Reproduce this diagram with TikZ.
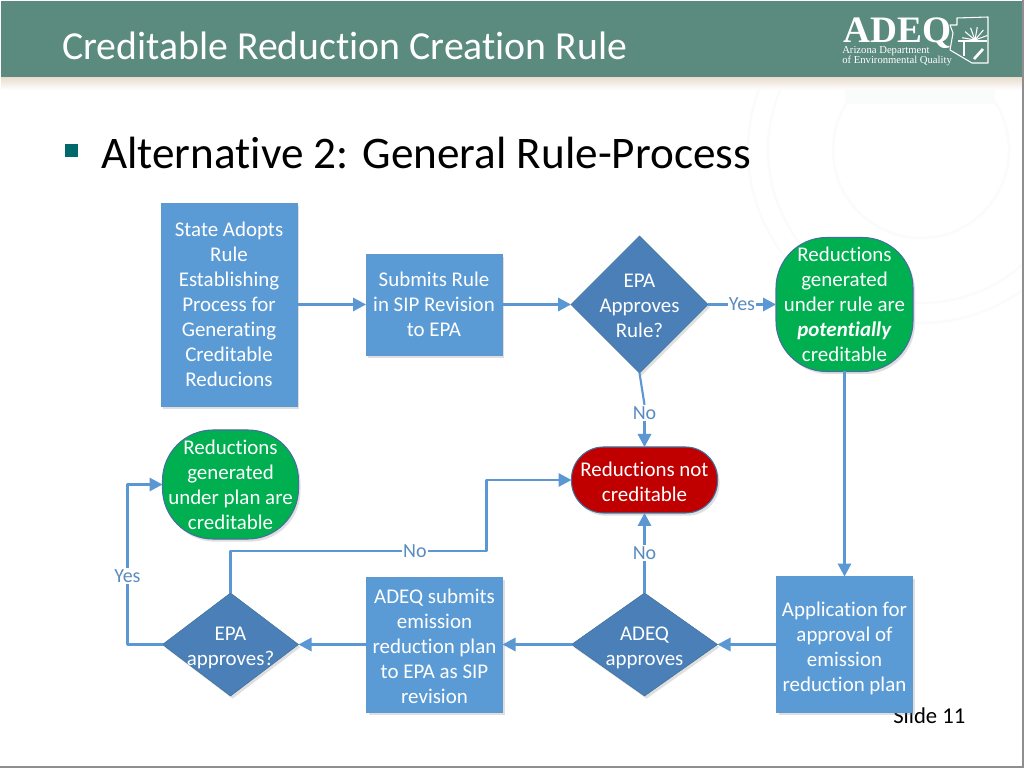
\documentclass[tikz,border=0pt]{standalone}
\usepackage{fontspec}
\setmainfont[Ligatures=NoCommon]{Carlito}
\newfontfamily\logofont{Liberation Serif}
\usepackage{tikz}
\usetikzlibrary{arrows.meta, calc, positioning, shadows, shapes.geometric}
\usepackage{xcolor}
\definecolor{HeaderGreen}{HTML}{5B8A7E}
\definecolor{HeaderTan}{HTML}{EADFD2}
\definecolor{BulletTeal}{HTML}{00696B}
\definecolor{BoxBlue}{HTML}{5B9BD5}
\definecolor{DiamondBlue}{HTML}{4A7FB8}
\definecolor{EdgeBlue}{HTML}{41719C}
\definecolor{LineBlue}{HTML}{5B97D2}
\definecolor{TextBlue}{HTML}{5A8CC0}
\definecolor{PassGreen}{HTML}{00AF50}
\definecolor{FailRed}{HTML}{C00000}
\definecolor{SealGray}{HTML}{FAFBFB}
\definecolor{FrameGray}{HTML}{8E8E8E}
\newcommand{\diamondtext}[1]{\raisebox{-0.75em}{\smash{\makebox[0pt]{\begin{tabular}{@{}c@{}}#1\end{tabular}}}}}
\tikzset{%
  flow_shape/.style={%
    inner sep=0pt,%
    outer sep=0pt,%
    text=white,%
    font={\fontsize{15.7}{18.75}\selectfont},%
    align=center,%
    drop shadow={shadow xshift=1.5pt, shadow yshift=-2pt, opacity=0.25},%
  },
  flow_block/.style={%
    flow_shape,%
    rectangle,%
    fill=BoxBlue,%
    minimum width=102pt,%
    draw=BoxBlue!90!gray,%
    thin,%
  },
  flow_diamond/.style={%
    flow_shape,%
    diamond,%
    fill=DiamondBlue,%
    draw=EdgeBlue,%
    thin,%
  },
  flow_end/.style={%
    flow_shape,%
    rectangle,%
    draw=EdgeBlue,%
    thick,%
  },
  flow_path/.style={%
    color=LineBlue,%
    line width=1.6pt,%
    line join=round,%
  },
  flow_annotate/.style={%
    color=TextBlue,%
    fill=white,%
    inner sep=1pt,%
    font={\fontsize{15}{18.75}\selectfont},%
  },
  arrow/.style={-{Triangle[length=9.75pt, width=10pt]}},
}

\begin{document}
\begin{tikzpicture}[x=0.75pt, y=0.75pt]

    \useasboundingbox (0, 0) rectangle (1024, 768);

    % watermark
    \begin{scope}
      \clip (0, 0) rectangle (1024, 690);
      \draw [SealGray, line width=2pt] (921, 618) circle [radius=173];
      \draw [SealGray, line width=2pt] (921, 618) circle [radius=153];
      \draw [SealGray, line width=2pt] (921, 618) circle [radius=88];
      \fill [SealGray] (845, 664) rectangle (995, 682);
    \end{scope}

    % header
    \shade [top color=HeaderTan, bottom color=white] (1, 690) rectangle (1023, 678);
    \fill [HeaderGreen] (1, 767) rectangle (1023, 691);
    \fill [FrameGray] (0, 0) rectangle (1024, 2);
    \fill [FrameGray] (1022, 0) rectangle (1024, 768);
    \node [anchor=base west, inner sep=0pt, text=white, font={\fontsize{29.8}{32}\selectfont}]
      (title) at (62, 708) {Creditable Reduction Creation Rule};

    % logo
    \node [anchor=base west, inner sep=0pt, text=white, font={\logofont\bfseries\fontsize{28}{28}\selectfont}]
      (logo) at (843, 725) {ADEQ};
    \node [anchor=base west, inner sep=0pt, text=white, align=left,
      font={\logofont\fontsize{8}{7.5}\selectfont}]
      (logo_sub) at (842, 704) {Arizona Department\\of Environmental Quality};
    \draw [white, line width=0.8pt, line join=round]
      (957, 750) -- (988, 751) -- (988, 705) -- (972, 705) -- (950, 718)
      -- (953, 735) -- (950, 743) -- (957, 743) -- cycle;
    \foreach \ang in {20, 50, 80, 110, 140, 170} {
      \draw [white, line width=0.8pt] (975, 728) -- +(\ang:13);
    }
    \draw [white, line width=1pt] (958, 727) -- (987, 727);
    \draw [white, line width=1.6pt] (964, 712) -- (964, 726);
    \draw [white, line width=2pt] (974, 709) -- (983, 719);

    % heading
    \fill [BulletTeal] (65, 611) rectangle (78, 624);
    \node [anchor=base west, inner sep=0pt, text=black, font={\fontsize{33.9}{36}\selectfont}]
      (heading) at (101, 599) {Alternative 2: General Rule-Process};

    \node [anchor=base west, inner sep=0pt, text=black, font={\fontsize{17}{20}\selectfont}]
      (slide_no) at (893, 45) {Slide 11};

    % top row
    \node [flow_block, minimum height=152.25pt] (State) at (229, 463.5)
      {State Adopts\\Rule\\Establishing\\Process for\\Generating\\Creditable\\Reducions};
    \node [flow_block, minimum height=75.75pt, right = 69 of State] (Submit)
      {Submits Rule\\in SIP Revision\\to EPA};
    \node [flow_diamond, minimum width=102.75pt, minimum height=102.75pt, right = 69 of Submit] (Rule)
      {\diamondtext{EPA\\Approves\\Rule?}};
    \node [flow_end, fill=PassGreen, minimum width=102.75pt, minimum height=100.5pt,
      rounded corners=38pt, right = 68 of Rule] (RuleOk)
      {Reductions\\generated\\under rule are\\\textbf{\textit{potentially}}\\creditable};

    % bottom row
    \node [flow_block, minimum height=102pt, below = 205 of RuleOk] (Apply)
      {\rule{0pt}{17pt}Application for\\approval of\\emission\\reduction plan};
    \node [flow_diamond, minimum width=109.5pt, minimum height=77.25pt, left = 59 of Apply] (Adeq)
      {\diamondtext{ADEQ\\approves}};
    \node [flow_block, minimum height=101.25pt, left = 69 of Adeq] (Plan)
      {\rule{0pt}{13pt}ADEQ submits\\emission\\reduction plan\\to EPA as SIP\\revision};
    \node [flow_diamond, minimum width=102pt, minimum height=77.25pt, left = 68 of Plan] (Epa)
      {\diamondtext{EPA\\approves?}};

    % middle row
    \node [flow_end, fill=FailRed, minimum width=109.5pt, minimum height=49.5pt,
      rounded corners=24pt, above = 80 of Adeq] (NotOk)
      {\rule{0pt}{13pt}Reductions not\\creditable};
    \node [flow_end, fill=PassGreen, minimum width=102pt, minimum height=81.75pt,
      rounded corners=38pt, above = 54 of Epa] (PlanOk)
      {Reductions\\generated\\under plan are\\creditable};

    \coordinate [left = 35 of Epa] (yes_turn);
    \coordinate [above = 42 of Epa] (no_turn);
    \coordinate [right = 256 of no_turn] (no_rise);
    \node [flow_annotate, above = 26 of NotOk] (rule_no) {No};

    \draw [arrow, flow_path]
      (State.east) -- (Submit.west);
    \draw [arrow, flow_path]
      (Submit.east) -- (Rule.west);
    \draw [arrow, flow_path]
      (Rule.east) -- (RuleOk.west)
      node [flow_annotate, midway] {Yes};
    \draw [flow_path]
      (Rule.south) -- (rule_no.north);
    \draw [arrow, flow_path]
      (rule_no.south) -- (NotOk.north);
    \draw [arrow, flow_path]
      (RuleOk.south) -- (Apply.north);
    \draw [arrow, flow_path]
      (Apply.west) -- (Adeq.east);
    \draw [arrow, flow_path]
      (Adeq.west) -- (Plan.east);
    \draw [arrow, flow_path]
      (Plan.west) -- (Epa.east);
    \draw [arrow, flow_path]
      (Adeq.north) -- (NotOk.south)
      node [flow_annotate, midway] {No};
    \draw [arrow, flow_path]
      (Epa.north)
      --
      (no_turn)
      --
      (no_rise)
      node [flow_annotate, pos=0.72] {No}
      --
      (no_rise |- NotOk.west)
      --
      (NotOk.west);
    \draw [arrow, flow_path]
      (Epa.west)
      --
      (yes_turn)
      --
      (yes_turn |- PlanOk.west)
      node [flow_annotate, pos=0.43] {Yes}
      --
      (PlanOk.west);

  \end{tikzpicture}
\end{document}
